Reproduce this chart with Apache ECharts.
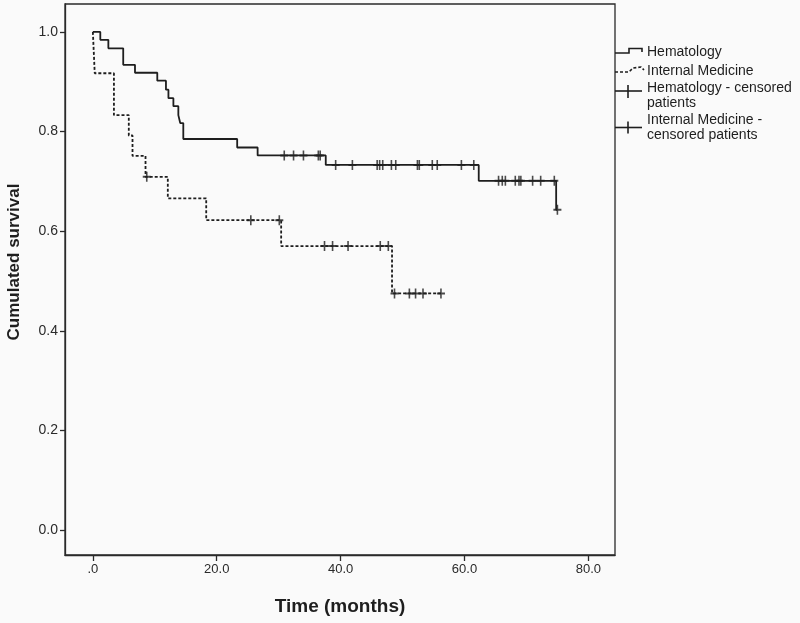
<!DOCTYPE html>
<html>
<head>
<meta charset="utf-8">
<script src="https://cdn.jsdelivr.net/npm/echarts@6/dist/echarts.min.js"></script>
<style>
  html, body { margin: 0; padding: 0; background: #fafafa; }
  #main { width: 800px; height: 623px; }
</style>
</head>
<body>
<div id="main"></div>
<script>
// Kaplan-Meier: [months, survival] at each event, last point = end of follow-up
const hemaSteps = [
  [0, 1.0], [1.2, 0.984], [2.5, 0.967], [4.9, 0.934], [6.8, 0.918],
  [10.4, 0.902], [11.8, 0.884], [12.2, 0.867], [13.0, 0.851], [13.8, 0.833],
  [14.1, 0.817], [14.6, 0.785], [23.3, 0.768], [26.6, 0.752], [37.6, 0.733],
  [62.3, 0.701], [74.8, 0.643], [75.0, 0.643]
];
const internSteps = [
  [0, 1.0], [0.3, 0.917], [3.4, 0.833], [5.8, 0.792], [6.4, 0.751],
  [8.5, 0.709], [12.1, 0.666], [18.3, 0.622], [30.4, 0.570], [48.3, 0.475],
  [56.2, 0.475]
];
// censored patients
const hemaCensored = [
  [30.9, 0.752], [32.4, 0.752], [34.0, 0.752], [36.4, 0.752], [36.7, 0.752],
  [39.2, 0.733], [41.9, 0.733], [45.9, 0.733], [46.3, 0.733], [46.8, 0.733],
  [48.2, 0.733], [48.9, 0.733], [52.4, 0.733], [52.7, 0.733], [54.8, 0.733],
  [55.6, 0.733], [59.5, 0.733], [61.5, 0.733],
  [65.5, 0.701], [66.1, 0.701], [66.6, 0.701], [68.2, 0.701], [68.8, 0.701],
  [69.1, 0.701], [71.0, 0.701], [72.3, 0.701], [74.5, 0.701],
  [75.0, 0.643]
];
const internCensored = [
  [8.7, 0.709], [25.5, 0.622], [30.1, 0.622],
  [37.4, 0.570], [38.7, 0.570], [41.2, 0.570], [46.4, 0.570], [47.7, 0.570],
  [48.7, 0.475], [51.1, 0.475], [52.1, 0.475], [53.3, 0.475], [56.2, 0.475]
];
const xTicks = [0, 20, 40, 60, 80];
const yTicks = [0, 0.2, 0.4, 0.6, 0.8, 1.0];

const ink = '#1e1e1e';
const plus = 'path://M4,0H6V4H10V6H6V10H4V6H0V4H4Z';

let myChart = echarts.init(document.getElementById('main'));
let option = {
  backgroundColor: '#fafafa',
  animation: false,
  grid: {
    left: 65, right: 185, top: 4, bottom: 68,
    show: true, borderColor: '#2a2a2a', borderWidth: 1.3, backgroundColor: 'transparent'
  },
  xAxis: {
    type: 'value', min: -4.5, max: 84.3,
    name: 'Time (months)', nameLocation: 'middle', nameGap: 42,
    nameTextStyle: { fontFamily: 'Liberation Sans', fontWeight: 'bold', fontSize: 19, color: ink },
    axisLine: { show: true, onZero: false, lineStyle: { color: '#2a2a2a', width: 1.3 } },
    axisTick: { show: true, length: 6, customValues: xTicks, lineStyle: { color: '#2a2a2a', width: 1.3 } },
    axisLabel: {
      customValues: xTicks, margin: 8, fontFamily: 'Liberation Sans', fontSize: 13, color: '#2a2a2a',
      formatter: v => v === 0 ? '.0' : v.toFixed(1)
    },
    splitLine: { show: false }
  },
  yAxis: {
    type: 'value', min: -0.05, max: 1.056,
    axisLine: { show: true, onZero: false, lineStyle: { color: '#2a2a2a', width: 1.3 } },
    axisTick: { show: true, length: 5, customValues: yTicks, lineStyle: { color: '#2a2a2a', width: 1.3 } },
    axisLabel: {
      customValues: yTicks, margin: 7, fontFamily: 'Liberation Sans', fontSize: 14, color: '#2a2a2a',
      formatter: v => v.toFixed(1)
    },
    splitLine: { show: false }
  },
  graphic: [
    {
      type: 'text', rotation: Math.PI / 2, position: [6, 262],
      style: { text: 'Cumulated survival', x: 0, y: 0, fill: ink, align: 'center', verticalAlign: 'top',
        font: 'bold 17px "Liberation Sans"' }
    },
    // legend
    { type: 'polyline', shape: { points: [[615, 53], [629, 53], [629, 48.5], [642, 48.5], [642, 52]] },
      style: { stroke: ink, lineWidth: 1.6, fill: null } },
    { type: 'text', style: { text: 'Hematology', x: 647, y: 52, verticalAlign: 'middle', fill: ink, font: '14px "Liberation Sans"' } },
    { type: 'polyline', shape: { points: [[615, 72], [629, 72], [633, 68], [641, 67], [644, 70]] },
      style: { stroke: ink, lineWidth: 1.6, fill: null, lineDash: [3, 2] } },
    { type: 'text', style: { text: 'Internal Medicine', x: 647, y: 71, verticalAlign: 'middle', fill: ink, font: '14px "Liberation Sans"' } },
    { type: 'polyline', shape: { points: [[615, 91], [642, 91]] }, style: { stroke: ink, lineWidth: 1.6 } },
    { type: 'polyline', shape: { points: [[628, 85], [628, 98]] }, style: { stroke: ink, lineWidth: 1.6 } },
    { type: 'text', style: { text: 'Hematology - censored\npatients', x: 647, y: 81, lineHeight: 15, fill: ink, font: '14px "Liberation Sans"' } },
    { type: 'polyline', shape: { points: [[615, 127.5], [642, 127.5]] }, style: { stroke: ink, lineWidth: 1.6 } },
    { type: 'polyline', shape: { points: [[628, 121.5], [628, 133.5]] }, style: { stroke: ink, lineWidth: 1.6 } },
    { type: 'text', style: { text: 'Internal Medicine -\ncensored patients', x: 647, y: 113, lineHeight: 15, fill: ink, font: '14px "Liberation Sans"' } }
  ],
  series: [
    {
      type: 'line', name: 'Hematology', step: 'end', data: hemaSteps,
      showSymbol: false, lineStyle: { color: ink, width: 1.8 }
    },
    {
      type: 'line', name: 'Internal Medicine', step: 'end', data: internSteps,
      showSymbol: false, lineStyle: { color: ink, width: 1.8, type: [3, 2] }
    },
    {
      type: 'scatter', name: 'Hematology - censored patients', data: hemaCensored,
      symbol: plus, symbolSize: [8, 10], itemStyle: { color: ink }
    },
    {
      type: 'scatter', name: 'Internal Medicine - censored patients', data: internCensored,
      symbol: plus, symbolSize: [8, 10], itemStyle: { color: ink }
    }
  ]
};
myChart.setOption(option);
</script>
</body>
</html>
